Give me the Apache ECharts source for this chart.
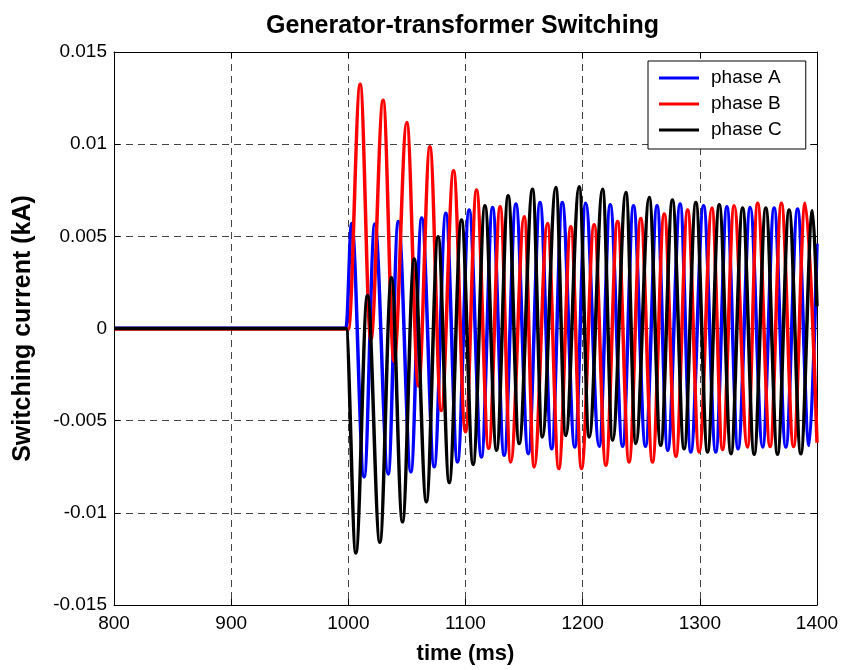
<!DOCTYPE html>
<html>
<head>
<meta charset="utf-8">
<script src="https://cdn.jsdelivr.net/npm/echarts@6/dist/echarts.min.js"></script>
<style>
  html, body { margin: 0; padding: 0; background: #fff; }
  #chart { width: 842px; height: 670px; }
</style>
</head>
<body>
<div id="chart"></div>
<script>
// ---- Data (time in ms, current in kA) ----
const seriesNames = ['phase A', 'phase B', 'phase C'];

const timeA = [800, 998, 1002.8, 1013.5, 1022.6, 1034, 1042.6, 1053.4, 1062.6, 1073.3, 1083.2, 1093.2,
  1103.1, 1113.6, 1123.1, 1133, 1143, 1153.6, 1163.6, 1173.6, 1182.6, 1193.3, 1202.6, 1214.1, 1223.5,
  1234.1, 1243.4, 1253.6, 1263.5, 1272.6, 1283.2, 1292.3, 1303.2, 1313.6, 1323.1, 1332.6, 1343, 1353.6,
  1363.4, 1373.4, 1383.4, 1393.3, 1400];
const currentA = [0.00002, 0.00002, 0.0057, -0.00805, 0.00567, -0.0079, 0.0058, -0.00778, 0.006, -0.0075,
  0.00625, -0.00724, 0.00643, -0.00697, 0.00657, -0.00688, 0.00675, -0.00679, 0.00684, -0.00652, 0.00684,
  -0.00643, 0.00679, -0.00639, 0.00671, -0.00639, 0.00666, -0.00639, 0.00666, -0.0066, 0.00675, -0.0067,
  0.00666, -0.0067, 0.0066, -0.00652, 0.00657, -0.00643, 0.00654, -0.00643, 0.00648, -0.00634, 0.0046];

const timeB = [800, 1000, 1010.1, 1019.2, 1029.7, 1039, 1049.9, 1059.9, 1069.6, 1079.3, 1089.8, 1100,
  1109.4, 1119.8, 1129.6, 1138.6, 1150.1, 1158.6, 1170, 1179.6, 1189.9, 1199, 1209.8, 1219.8, 1229.8,
  1239.6, 1249.6, 1259.6, 1269.6, 1279.6, 1289.6, 1299.4, 1310.3, 1319.4, 1329.3, 1340.6, 1349.3, 1360,
  1369.6, 1380, 1389.9, 1400];
const currentB = [-0.00003, -0.00003, 0.01325, -0.0006, 0.01238, -0.00177, 0.01117, -0.00312, 0.00986,
  -0.00445, 0.00856, -0.0056, 0.00751, -0.0065, 0.0066, -0.00724, 0.00606, -0.00751, 0.0057, -0.0076,
  0.00552, -0.0076, 0.00563, -0.00742, 0.00581, -0.00724, 0.00597, -0.00724, 0.00621, -0.00693, 0.00643,
  -0.0067, 0.00654, -0.00657, 0.00666, -0.00643, 0.00679, -0.0064, 0.00679, -0.0064, 0.00679, -0.0062];

const timeC = [800, 998, 1006.4, 1016.3, 1026.9, 1036.8, 1046.2, 1056.2, 1066.6, 1076.6, 1086.1, 1096.6,
  1106.5, 1116.6, 1126.5, 1136.4, 1145.8, 1157.2, 1165.6, 1177.1, 1185.6, 1197, 1205.6, 1217, 1225.6,
  1236.9, 1245.4, 1256.8, 1266.6, 1276.6, 1286.6, 1296.6, 1306.6, 1316.6, 1326.6, 1336.5, 1346.4, 1356.3,
  1366.3, 1376.2, 1386.2, 1396.2, 1400];
const currentC = [0, 0, -0.01218, 0.00179, -0.01159, 0.00275, -0.01049, 0.00377, -0.0094, 0.00498,
  -0.00836, 0.00589, -0.00737, 0.00666, -0.0066, 0.0072, -0.00624, 0.00756, -0.00589, 0.00765, -0.0058,
  0.00769, -0.00589, 0.00756, -0.00606, 0.00738, -0.00624, 0.00711, -0.00634, 0.00697, -0.00652, 0.00684,
  -0.0067, 0.00671, -0.00679, 0.00654, -0.00682, 0.00654, -0.00682, 0.00643, -0.00679, 0.00639, 0.0012];

const xTicks = [800, 900, 1000, 1100, 1200, 1300, 1400];
const yTickLabels = ['-0.015', '-0.01', '-0.005', '0', '0.005', '0.01', '0.015'];
const seriesColors = ['#0000ff', '#ff0000', '#000000'];

// ---- Build chart ----
const zip = (t, v) => t.map((x, i) => [x, v[i]]);
const dataSets = [zip(timeA, currentA), zip(timeB, currentB), zip(timeC, currentC)];

const FONT = '"Liberation Sans", Arial, Helvetica, sans-serif';
const gridLine = { show: true, lineStyle: { color: '#444', width: 1, type: [7, 5] } };
const yMin = -0.015, yMax = 0.015, yStep = 0.005;
const xMin = xTicks[0], xMax = xTicks[xTicks.length - 1], xStep = xTicks[1] - xTicks[0];

const chart = echarts.init(document.getElementById('chart'), null, { renderer: 'canvas' });
chart.setOption({
  animation: false,
  backgroundColor: '#fff',
  title: {
    text: 'Generator-transformer Switching',
    left: 266, top: 14, padding: 0,
    textStyle: { fontFamily: FONT, fontSize: 25, fontWeight: 'bold', color: '#000' }
  },
  legend: {
    data: seriesNames.map(n => ({ name: n, icon: 'rect' })),
    orient: 'vertical',
    left: 648, top: 61,
    padding: [7, 24, 9, 11],
    itemWidth: 40, itemHeight: 3, itemGap: 6,
    backgroundColor: '#fff', borderColor: '#000', borderWidth: 1,
    textStyle: { fontFamily: FONT, fontSize: 19, color: '#000', lineHeight: 20, padding: [0, 0, 0, 7] }
  },
  grid: { left: 114, right: 25, top: 52, bottom: 64, containLabel: false },
  xAxis: [{
    type: 'value', min: xMin, max: xMax, interval: xStep,
    name: 'time (ms)', nameLocation: 'middle', nameGap: 38,
    nameTextStyle: { fontFamily: FONT, fontSize: 22, fontWeight: 'bold', color: '#000' },
    axisLine: { show: true, onZero: false, lineStyle: { color: '#000', width: 1 } },
    axisTick: { show: true, inside: true, length: 6, lineStyle: { color: '#000' } },
    axisLabel: {
      fontFamily: FONT, fontSize: 19, color: '#000', margin: 9,
      formatter: v => String(xTicks[Math.round((v - xMin) / xStep)])
    },
    splitLine: gridLine
  }, {
    type: 'value', position: 'top', min: xMin, max: xMax, interval: xStep,
    axisLine: { show: true, onZero: false, lineStyle: { color: '#000', width: 1 } },
    axisTick: { show: true, inside: true, length: 6, lineStyle: { color: '#000' } },
    axisLabel: { show: false }, splitLine: { show: false }
  }],
  yAxis: [{
    type: 'value', min: yMin, max: yMax, interval: yStep,
    name: 'Switching current (kA)', nameLocation: 'middle', nameGap: 78,
    nameTextStyle: { fontFamily: FONT, fontSize: 25, fontWeight: 'bold', color: '#000' },
    axisLine: { show: true, onZero: false, lineStyle: { color: '#000', width: 1 } },
    axisTick: { show: true, inside: true, length: 6, lineStyle: { color: '#000' } },
    axisLabel: {
      fontFamily: FONT, fontSize: 19, color: '#000', margin: 7,
      formatter: v => yTickLabels[Math.round((v - yMin) / yStep)]
    },
    splitLine: gridLine
  }, {
    type: 'value', position: 'right', min: yMin, max: yMax, interval: yStep,
    axisLine: { show: true, onZero: false, lineStyle: { color: '#000', width: 1 } },
    axisTick: { show: true, inside: true, length: 6, lineStyle: { color: '#000' } },
    axisLabel: { show: false }, splitLine: { show: false }
  }],
  series: seriesNames.map((name, i) => ({
    name, type: 'line', xAxisIndex: 0, yAxisIndex: 0,
    data: dataSets[i],
    showSymbol: false, symbol: 'none',
    smooth: 0.36, smoothMonotone: 'x',
    color: seriesColors[i],
    lineStyle: { color: seriesColors[i], width: 3.5 },
    z: 2 + i
  }))
});
</script>
</body>
</html>
